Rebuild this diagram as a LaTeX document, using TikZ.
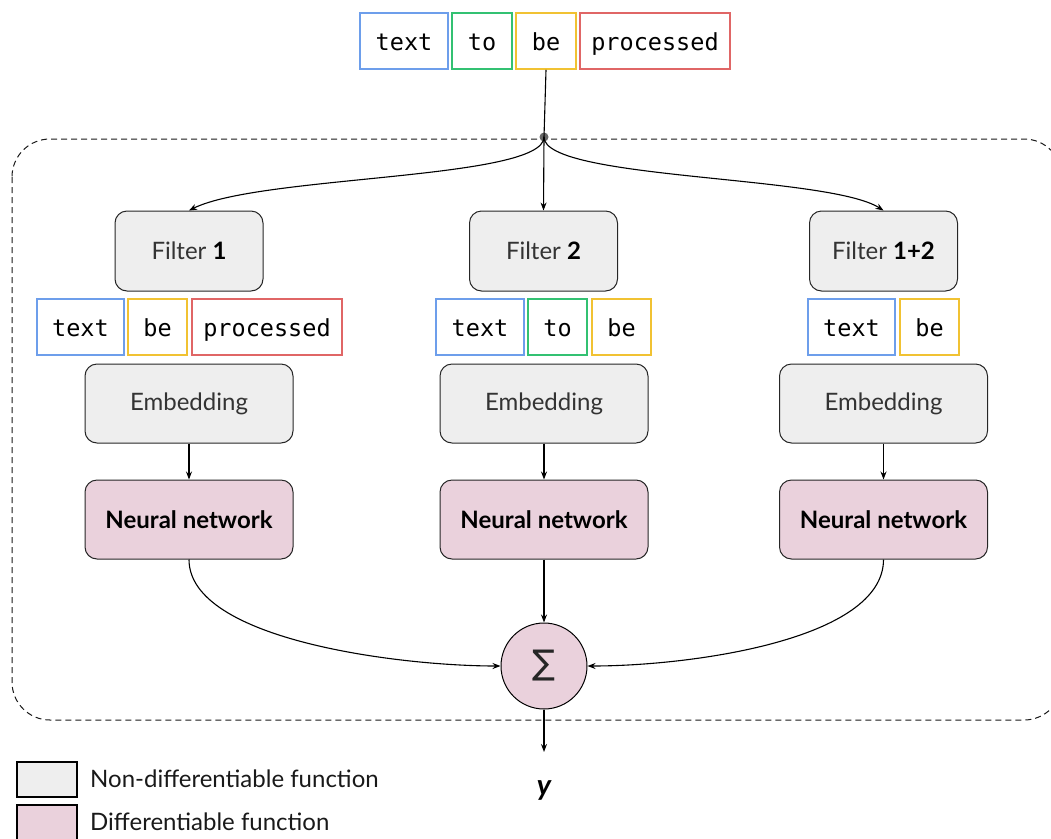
\documentclass[tikz,border=0pt]{standalone}
\usepackage{fontspec}
\setmainfont{Lato}
\setmonofont{DejaVu Sans Mono}
\newfontfamily\symbolfont{DejaVu Sans}
\usetikzlibrary{arrows.meta,calc}

\definecolor{tokblue}{HTML}{6D9EEB}
\definecolor{tokgreen}{HTML}{33C172}
\definecolor{tokyellow}{HTML}{F1C232}
\definecolor{tokred}{HTML}{E06666}
\definecolor{fngray}{HTML}{EEEEEE}
\definecolor{fnpink}{HTML}{EAD1DC}
\definecolor{dotgray}{HTML}{666666}
\definecolor{txtgray}{HTML}{333333}

\begin{document}
\begin{tikzpicture}[x=1pt,y=-1pt,
  fnbox/.style={draw=black!85, line width=1pt, rounded corners=12pt,
    inner sep=0pt, font=\fontsize{24}{28}\selectfont, text=txtgray},
  filterbox/.style={fnbox, fill=fngray, minimum width=148pt, minimum height=80pt},
  embbox/.style={fnbox, fill=fngray, minimum width=208pt, minimum height=79pt},
  nnbox/.style={fnbox, fill=fnpink, minimum width=208pt, minimum height=79pt,
    text=black, font=\fontsize{24}{28}\selectfont\bfseries},
  tok/.style={draw, line width=1.6pt, fill=white, minimum height=56pt, inner sep=0pt,
    text height=18pt, text depth=0pt,
    font=\ttfamily\fontsize{23.5}{27}\selectfont},
  tblue/.style={tok, draw=tokblue},
  tgreen/.style={tok, draw=tokgreen},
  tyellow/.style={tok, draw=tokyellow},
  tred/.style={tok, draw=tokred},
  conn/.style={draw=black, line width=1.1pt},
  arr/.style={conn, -{Stealth[length=8pt,width=6pt]}},
  legbox/.style={draw=black, line width=2pt, inner sep=0pt, minimum width=60pt},
  legtext/.style={anchor=west, inner sep=0pt, font=\fontsize{24}{28}\selectfont, text=black!90}
]
\useasboundingbox (0,0) rectangle (1051,838);

% enclosing group
\draw[black!90, line width=1pt, dash pattern=on 6pt off 4pt, rounded corners=38pt]
  (12,139) rectangle (1062,720);

% input tokens
\node[tblue,   minimum width=88pt]  (in1) at (404,41) {text};
\node[tgreen,  minimum width=60pt]  (in2) at (482,41) {to};
\node[tyellow, minimum width=60pt]  (in3) at (546,41) {be};
\node[tred,    minimum width=150pt] (in4) at (655,41) {processed};

% split point
\node[circle, fill=dotgray, inner sep=0pt, minimum size=9pt] (split) at (544,137) {};

% filters
\node[filterbox] (f1) at (189,251)   {Filter \textcolor{black}{\bfseries 1}};
\node[filterbox] (f2) at (543.5,251) {Filter \textcolor{black}{\bfseries 2}};
\node[filterbox] (f3) at (883.5,251) {Filter \textcolor{black}{\bfseries 1+2}};

% filtered tokens
\node[tblue,   minimum width=87pt]  (a1) at (80.5,327)  {text};
\node[tyellow, minimum width=59pt]  (a2) at (157.5,327) {be};
\node[tred,    minimum width=150pt] (a3) at (267,327)   {processed};

\node[tblue,   minimum width=88pt]  (b1) at (480,327)   {text};
\node[tgreen,  minimum width=59pt]  (b2) at (557.5,327) {to};
\node[tyellow, minimum width=59pt]  (b3) at (621.5,327) {be};

\node[tblue,   minimum width=87pt]  (c1) at (851.5,327) {text};
\node[tyellow, minimum width=59pt]  (c2) at (929.5,327) {be};

% embeddings
\node[embbox] (e1) at (189,403.5)   {Embedding};
\node[embbox] (e2) at (544,403.5)   {Embedding};
\node[embbox] (e3) at (883.5,403.5) {Embedding};

% networks
\node[nnbox] (n1) at (189,519.5)   {Neural network};
\node[nnbox] (n2) at (544,519.5)   {Neural network};
\node[nnbox] (n3) at (883.5,519.5) {Neural network};

% sum
\node[circle, draw=black, line width=1pt, fill=fnpink, minimum size=86pt, inner sep=0pt,
  font=\symbolfont\fontsize{34}{38}\selectfont, text=black!85] (sum) at (544,666) {∑};

\coordinate (out) at (544,752);
\node[font=\fontsize{29}{32}\selectfont\bfseries\itshape] (y) at (544,790) {y};

% connectors
\draw[conn] (in3.south) -- (split.center);
\draw[arr] (split.center) .. controls (544,180) and (260,175) .. (f1.north);
\draw[arr] (split.center) -- (f2.north);
\draw[arr] (split.center) .. controls (544,180) and (828,175) .. (f3.north);

\draw[arr] (e1.south) -- (n1.north);
\draw[arr] (e2.south) -- (n2.north);
\draw[arr] (e3.south) -- (n3.north);

\draw[arr] (n1.south) .. controls (189,640) and (400,666) .. (sum.west);
\draw[arr] (n2.south) -- (sum.north);
\draw[arr] (n3.south) .. controls (883.5,640) and (690,666) .. (sum.east);
\draw[arr] (sum.south) -- (out);

% legend
\node[legbox, fill=fngray, minimum height=35pt] (l1) at (47,779.5) {};
\node[legbox, fill=fnpink, minimum height=38pt] (l2) at (47,824) {};
\node[legtext] (t1) at (90,779) {Non-differentiable function};
\node[legtext] (t2) at (90,822) {Differentiable function};
\end{tikzpicture}
\end{document}
